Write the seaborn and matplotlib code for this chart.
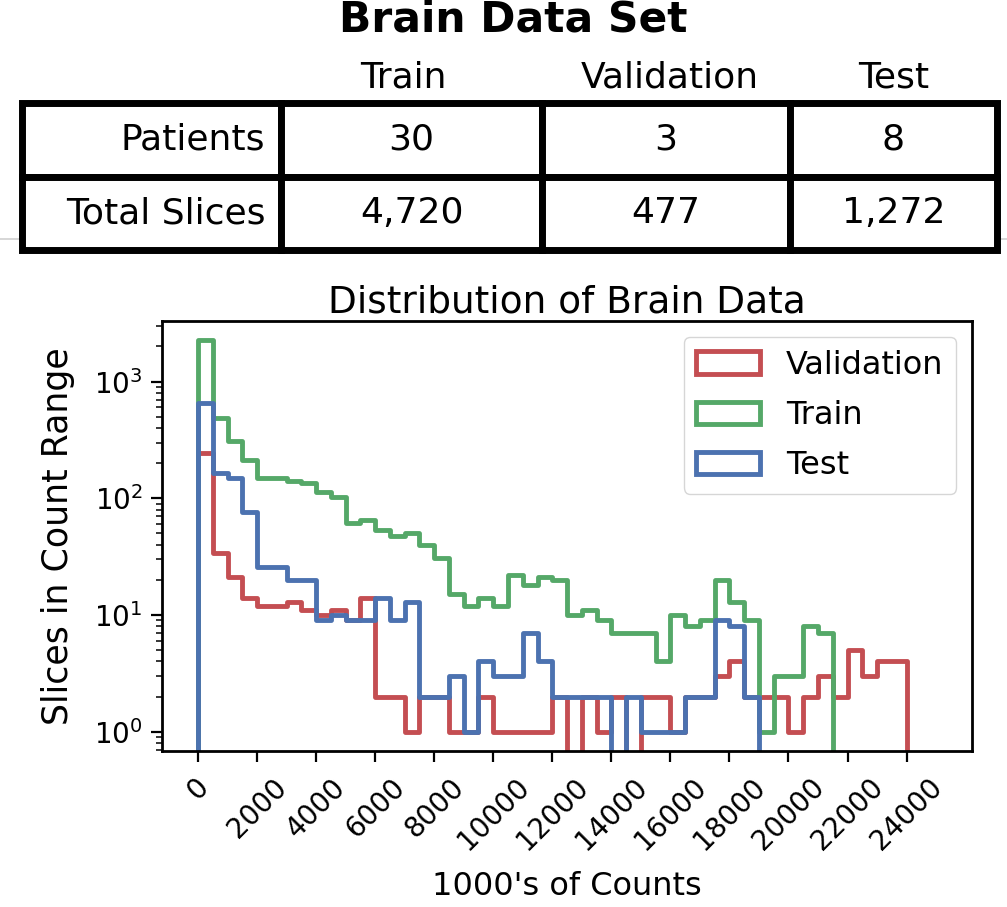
import numpy as np
import pandas as pd
import matplotlib
matplotlib.use("Agg")
import matplotlib.pyplot as plt
import seaborn as sns
from matplotlib.patches import Patch
from matplotlib.lines import Line2D

# ---------------- data ----------------
table_title = "Brain Data Set"
splits = ["Train", "Validation", "Test"]
row_labels = ["Patients", "Total Slices"]
patients = ["30", "3", "8"]
total_slices = ["4,720", "477", "1,272"]

bin_width = 500  # thousands of counts per bin
validation_counts = [246, 34, 21, 14, 12, 12, 13, 11, 10, 11, 9, 14,
                     2, 2, 1, 2, 2, 1, 1, 2, 1, 1, 1, 1, 2,
                     0, 2, 1, 2, 0, 2, 2, 1, 2, 2,
                     3, 4, 2, 2, 2, 1, 2, 3, 2, 5, 3, 4, 4]
train_counts = [2290, 490, 308, 214, 148, 148, 142, 134, 114, 103,
                61, 65, 54, 48, 50, 40, 31, 15, 12, 14,
                12, 22, 18, 21, 20, 10, 11, 9, 7, 7,
                7, 4, 10, 8, 9, 20, 13, 9, 1, 3, 3, 8, 7]
test_counts = [650, 165, 150, 77, 26, 26, 20, 20, 9, 10,
               9, 9, 14, 9, 13, 2, 2, 3, 1, 4,
               3, 3, 7, 4, 2, 2, 2, 2, 0, 2,
               1, 1, 1, 2, 2, 9, 8, 2]
series_names = ["Validation", "Train", "Test"]
series_colors = ["#C44E52", "#55A868", "#4C72B0"]
x_ticks = list(range(0, 24001, 2000))

# ---------------- style ----------------
sns.set_style("ticks")
plt.rcParams["font.family"] = ["DejaVu Sans"]
plt.rcParams["axes.linewidth"] = 2.0
plt.rcParams["axes.edgecolor"] = "black"
plt.rcParams["text.color"] = "black"
plt.rcParams["axes.labelcolor"] = "black"
plt.rcParams["xtick.color"] = "black"
plt.rcParams["ytick.color"] = "black"

fig = plt.figure(figsize=(10.07, 9.07), dpi=100)

# ---------------- table ----------------
ax_t = fig.add_axes([0, 1 - 260 / 907, 1, 260 / 907])
ax_t.set_xlim(0, 1)
ax_t.set_ylim(0, 1)
ax_t.axis("off")

tbl_left, tbl_right = 22 / 1007, 997 / 1007
tbl_bottom, tbl_top = 0.038, 0.604
col_w = np.array([259, 261, 248, 207], dtype=float)
col_w = col_w / col_w.sum()
cells = [[row_labels[0]] + patients, [row_labels[1]] + total_slices]
tbl = ax_t.table(cellText=cells, colWidths=list(col_w), cellLoc="center",
                 bbox=[tbl_left, tbl_bottom, tbl_right - tbl_left, tbl_top - tbl_bottom])
tbl.auto_set_font_size(False)
tbl.set_fontsize(26)
for (r, c), cell in tbl.get_celld().items():
    cell.set_linewidth(5)
    cell.set_edgecolor("black")
    cell.get_text().set_color("black")
    if c == 0:
        cell._loc = "right"
        cell.PAD = 0.06
        cell.get_text().set_ha("right")

edges_x = tbl_left + np.concatenate([[0], np.cumsum(col_w)]) * (tbl_right - tbl_left)
header_shift = [-0.008, 0.004, 0.0]
for i, name in enumerate(splits):
    cx = (edges_x[i + 1] + edges_x[i + 2]) / 2 + header_shift[i]
    ax_t.text(cx, 0.70, name, ha="center", va="center", fontsize=26)
ax_t.text(0.51, 0.925, table_title, ha="center", va="center",
          fontsize=30.5, fontweight="bold")

fig.add_artist(Line2D([0, 1], [1 - 239 / 907, 1 - 239 / 907], transform=fig.transFigure,
                      color="#d0d0d0", linewidth=1.2, zorder=0))

# ---------------- histogram ----------------
ax = fig.add_axes([0.16087, 0.17199, 0.80437, 0.47409])
for name, counts, color in zip(series_names,
                               [validation_counts, train_counts, test_counts],
                               series_colors):
    padded = [0.0] + [float(v) for v in counts] + [0.0]
    edges = [(i - 1) * bin_width for i in range(len(padded) + 1)]
    centers = [(edges[i] + edges[i + 1]) / 2 for i in range(len(padded))]
    df = pd.DataFrame({"x": centers, "w": padded})
    sns.histplot(data=df, x="x", weights="w", bins=edges, element="step",
                 fill=False, color=color, linewidth=3.5, ax=ax)

ax.set_yscale("log")
ax.set_xlim(-1219, 26215)
ax.set_ylim(10 ** -0.165, 10 ** 3.519)
ax.set_xticks(x_ticks)
ax.set_xticklabels([str(t) for t in x_ticks], rotation=45)
ax.tick_params(axis="both", which="major", labelsize=20, length=8, width=1.6,
               direction="out", color="black")
ax.tick_params(axis="x", which="major", pad=8)
ax.tick_params(axis="y", which="major", pad=6)
ax.tick_params(axis="y", which="minor", length=4.5, width=1.1, color="black")
ax.set_title("Distribution of Brain Data", fontsize=27)
ax.set_xlabel("1000's of Counts", fontsize=23, labelpad=11)
ax.set_ylabel("Slices in Count Range", fontsize=25, labelpad=14)

handles = [Patch(facecolor="none", edgecolor=c, linewidth=3.5) for c in series_colors]
ax.legend(handles, series_names, loc="upper right", fontsize=23, labelspacing=0.6,
          frameon=True, fancybox=True, edgecolor="0.8", framealpha=0.8)

fig.savefig("out.png", dpi=100)
